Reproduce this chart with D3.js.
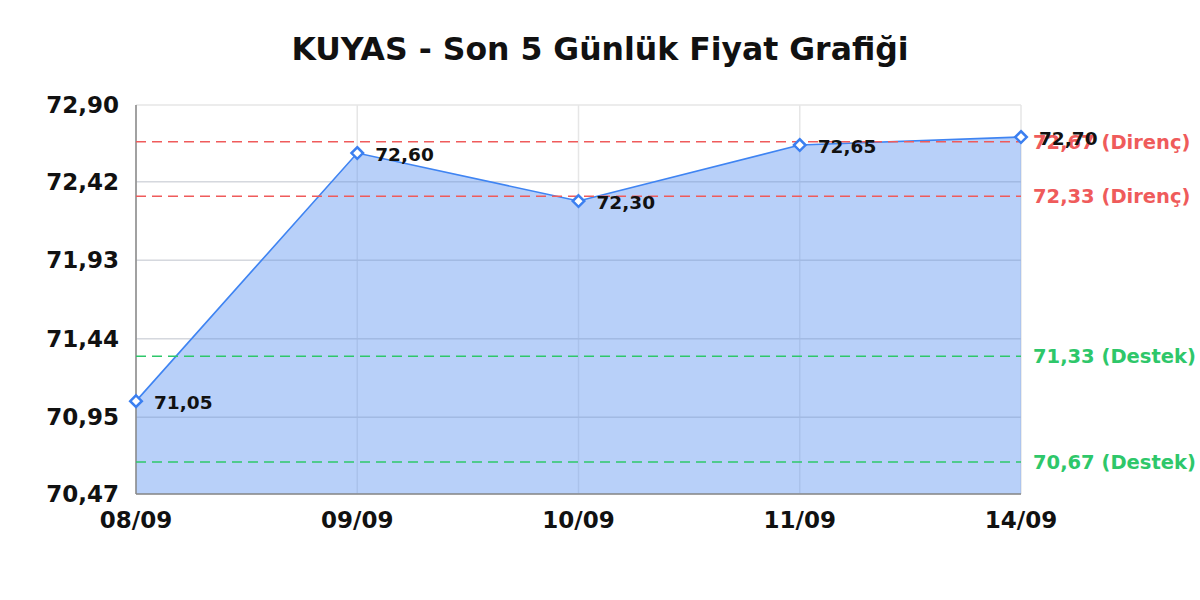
<!DOCTYPE html>
<html>
<head>
<meta charset="utf-8">
<script src="https://cdn.jsdelivr.net/npm/d3@7"></script>
<style>
  body { margin: 0; background: #fff; }
  text { font-family: "DejaVu Sans", sans-serif; }
</style>
</head>
<body>
<div id="chart"></div>
<script>
const WIDTH = 1200;
const HEIGHT = 600;

const dates = ['08/09', '09/09', '10/09', '11/09', '14/09'];
const prices = [71.05, 72.60, 72.30, 72.65, 72.70];
const yTicks = [70.47, 70.95, 71.44, 71.93, 72.42, 72.90];
const levelValues = [72.67, 72.33, 71.33, 70.67];
const levelKinds = ['Direnç', 'Direnç', 'Destek', 'Destek'];

const LEFT = 136;
const RIGHT = 1021;
const TOP = 105;
const BOTTOM = 494;
const fmt = v => v.toFixed(2).replace('.', ',');

const svg = d3.select('#chart').append('svg')
  .attr('width', WIDTH)
  .attr('height', HEIGHT);

const x = d3.scalePoint().domain(dates).range([LEFT, RIGHT]);
const y = d3.scaleLinear().domain([yTicks[0], yTicks[yTicks.length - 1]]).range([BOTTOM, TOP]);

svg.append('text')
  .attr('x', 600).attr('y', 60)
  .attr('text-anchor', 'middle')
  .attr('font-size', 31.5).attr('font-weight', 'bold')
  .attr('fill', '#111')
  .text('KUYAS - Son 5 Günlük Fiyat Grafiği');

// grid
svg.append('g').selectAll('line').data(yTicks).join('line')
  .attr('x1', LEFT).attr('x2', RIGHT)
  .attr('y1', d => y(d)).attr('y2', d => y(d))
  .attr('stroke', '#e6e6e6').attr('stroke-width', 1.5);
svg.append('g').selectAll('line').data(dates).join('line')
  .attr('x1', d => x(d)).attr('x2', d => x(d))
  .attr('y1', TOP).attr('y2', BOTTOM)
  .attr('stroke', '#e6e6e6').attr('stroke-width', 1.5);

// area
const area = d3.area()
  .x((d, i) => x(dates[i]))
  .y0(BOTTOM)
  .y1(d => y(d));
svg.append('path').datum(prices)
  .attr('d', area)
  .attr('fill', 'rgba(90,145,240,0.43)');

// grid lines showing through fill
svg.append('g').selectAll('line').data(yTicks.slice(1, -1)).join('line')
  .attr('x1', LEFT).attr('x2', RIGHT)
  .attr('y1', d => y(d)).attr('y2', d => y(d))
  .attr('stroke', 'rgba(120,140,180,0.15)').attr('stroke-width', 1.5);

const line = d3.line()
  .x((d, i) => x(dates[i]))
  .y(d => y(d));
svg.append('path').datum(prices)
  .attr('d', line)
  .attr('fill', 'none')
  .attr('stroke', '#3f84f2').attr('stroke-width', 1.6);

// axes lines
svg.append('line')
  .attr('x1', LEFT).attr('x2', LEFT).attr('y1', TOP).attr('y2', BOTTOM)
  .attr('stroke', '#888').attr('stroke-width', 1.5);
svg.append('line')
  .attr('x1', LEFT).attr('x2', RIGHT).attr('y1', BOTTOM).attr('y2', BOTTOM)
  .attr('stroke', '#888').attr('stroke-width', 1.5);

// support / resistance
const lvlColor = k => k === 'Direnç' ? '#ef5b5b' : '#2ec76a';
const levels = svg.append('g').selectAll('g').data(levelValues).join('g');
levels.append('line')
  .attr('x1', LEFT).attr('x2', RIGHT)
  .attr('y1', d => y(d)).attr('y2', d => y(d))
  .attr('stroke', (d, i) => lvlColor(levelKinds[i]))
  .attr('stroke-width', 1.5)
  .attr('stroke-dasharray', '10,6');
levels.append('text')
  .attr('x', RIGHT + 12)
  .attr('y', d => y(d) + 7)
  .attr('font-size', 19.5).attr('font-weight', 'bold')
  .attr('fill', (d, i) => lvlColor(levelKinds[i]))
  .text((d, i) => `${fmt(d)} (${levelKinds[i]})`);

// markers
const diamond = d3.symbol().type(d3.symbolDiamond2).size(85);
svg.append('g').selectAll('path').data(prices).join('path')
  .attr('d', diamond)
  .attr('transform', (d, i) => `translate(${x(dates[i])},${y(d)})`)
  .attr('fill', '#fff')
  .attr('stroke', '#3b7ff0').attr('stroke-width', 2.5);

svg.append('g').selectAll('text').data(prices).join('text')
  .attr('x', (d, i) => x(dates[i]) + 18)
  .attr('y', d => y(d) + 8)
  .attr('font-size', 18.5).attr('font-weight', 'bold')
  .attr('fill', '#111')
  .text(d => fmt(d));

// tick labels
svg.append('g').selectAll('text').data(yTicks).join('text')
  .attr('x', 119)
  .attr('y', d => y(d) + 8)
  .attr('text-anchor', 'end')
  .attr('font-size', 23).attr('font-weight', 'bold')
  .attr('fill', '#111')
  .text(d => fmt(d));

svg.append('g').selectAll('text').data(dates).join('text')
  .attr('x', d => x(d))
  .attr('y', 528)
  .attr('text-anchor', 'middle')
  .attr('font-size', 23).attr('font-weight', 'bold')
  .attr('fill', '#111')
  .text(d => d);
</script>
</body>
</html>
